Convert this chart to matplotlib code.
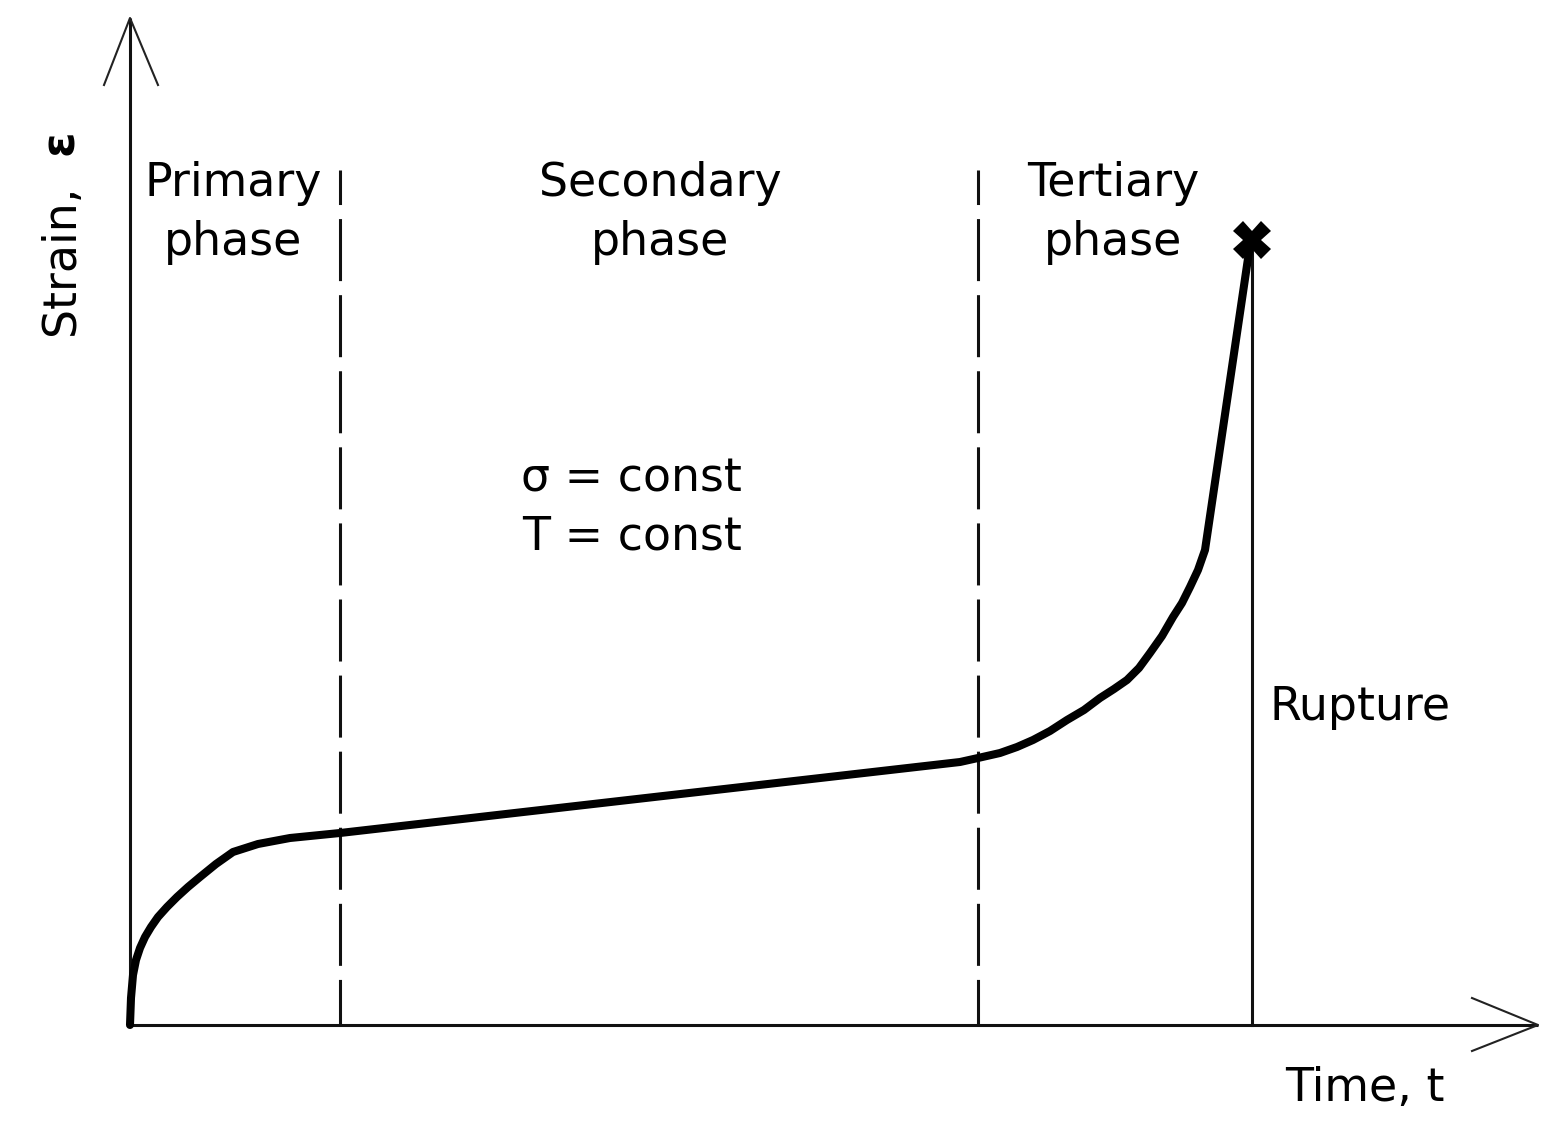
import matplotlib
matplotlib.use("Agg")
from matplotlib import pyplot as plt

# Creep curve (schematic units: time t, strain eps)
t = [0, 1, 3, 6, 10, 15, 21, 28, 37, 47, 58, 70, 86, 103, 128, 160, 210,
     830, 848, 870, 887, 903, 920, 937, 954, 970, 984, 997, 1009, 1020,
     1032, 1043, 1052, 1060, 1068, 1075, 1120]
eps = [0, 27, 50, 65, 77, 88, 98, 108, 118, 128, 138, 148, 161, 173, 181, 187, 192,
       263, 267, 272, 278, 285, 294, 305, 315, 327, 336, 345, 357, 372,
       389, 408, 422, 438, 455, 475, 780]

# Phase boundaries and rupture
phase_bounds = [210, 848]
phase_top = 855
rupture_t = 1120
rupture_eps = 780

phase_labels = ['Primary\nphase', 'Secondary\nphase', 'Tertiary\nphase']
phase_label_x = [103, 530, 983]

t_max = 1408
eps_max = 1007

fig = plt.figure(figsize=(15.6, 11.3), dpi=100)
ax = fig.add_axes([0, 0, 1, 1])
ax.set_xlim(-130, 1430)
ax.set_ylim(-105, 1025)
ax.axis('off')

fs = 33
col = '#111111'

# Axes with open arrowheads
ax.plot([0, t_max], [0, 0], color=col, lw=2.2, solid_capstyle='butt')
ax.plot([0, 0], [0, eps_max], color=col, lw=2.2, solid_capstyle='butt')
ax.plot([t_max - 66, t_max, t_max - 66], [27, 0, -26], color='#222222', lw=1.5)
ax.plot([-26, 0, 28], [eps_max - 67, eps_max, eps_max - 67], color='#222222', lw=1.5)

# Phase boundaries
for b in phase_bounds:
    ax.plot([b, b], [phase_top, 0], color=col, lw=2.2,
            linestyle=(9, (20.3, 4.6)))

# Rupture line
ax.plot([rupture_t + 2, rupture_t + 2], [0, rupture_eps], color=col, lw=2.2)

# Creep curve
ax.plot(t, eps, color='black', lw=5.8, solid_joinstyle='round', solid_capstyle='round')
ax.plot([rupture_t + 2], [rupture_eps + 5], marker='X', ms=27, color='black', mew=0)

# Labels
for lab, x in zip(phase_labels, phase_label_x):
    ax.text(x, 812, lab, fontsize=fs, ha='center', va='center', linespacing=1.4)

ax.text(612, 517, 'σ = const\nT = const', fontsize=fs, ha='right', va='center', linespacing=1.4)
ax.text(1140, 317, 'Rupture', fontsize=fs, ha='left', va='center')
ax.text(1235, -64, 'Time, t', fontsize=fs, ha='center', va='center')
ax.text(-68, 690, 'Strain,', fontsize=fs, rotation=90, ha='center', va='bottom')
ax.text(-70, 883, 'ε', fontsize=fs, fontweight='bold', rotation=90, ha='center', va='center')

fig.savefig('out.png', dpi=100)
